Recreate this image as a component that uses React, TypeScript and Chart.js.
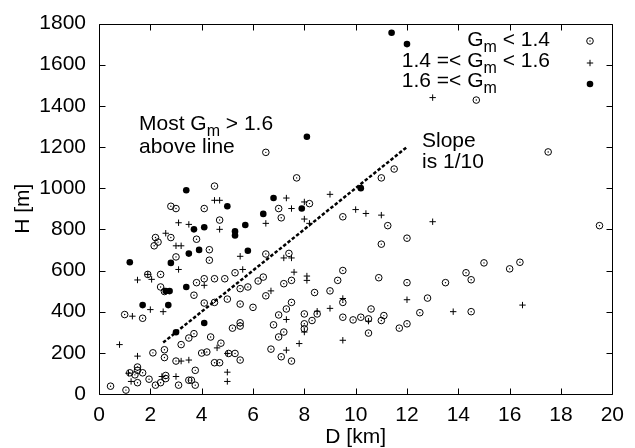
import React, { useEffect, useRef } from "react";
import { Chart, registerables } from "chart.js";

Chart.register(...registerables);

// ---- data ----
const xTicks = [0, 2, 4, 6, 8, 10, 12, 14, 16, 18, 20];
const yTicks = [0, 200, 400, 600, 800, 1000, 1200, 1400, 1600, 1800];

// G_m < 1.4 (open circle with dot)
const gmLow: [number, number][] = [
  [4.5, 1010], [2.8, 912], [3.0, 901], [4.1, 901], [4.7, 845], [2.2, 760], [2.3, 738], [2.15, 720],
  [2.8, 760], [3.8, 752], [3.0, 666], [4.3, 701], [4.3, 650], [1.9, 581], [2.4, 581], [2.4, 520],
  [2.55, 498], [3.8, 541], [4.1, 560], [4.5, 560], [4.9, 560], [5.3, 589], [3.7, 480], [1.0, 386],
  [1.7, 368], [4.1, 442], [4.5, 445], [5.0, 461], [5.2, 320], [3.7, 293], [3.5, 272], [3.2, 240],
  [2.55, 215], [2.1, 200], [2.55, 177], [3.0, 160], [4.35, 277], [4.75, 247], [4.0, 199], [4.2, 204],
  [4.5, 152], [4.7, 152], [5.05, 197], [5.3, 197], [3.75, 115], [1.5, 131], [1.5, 115], [1.2, 103],
  [1.4, 93], [1.7, 103], [1.5, 55], [1.95, 72], [2.2, 43], [2.4, 55], [2.6, 90], [2.6, 75],
  [3.1, 43], [3.5, 67], [3.6, 67], [3.75, 43], [0.45, 38], [1.05, 19],
  [7.7, 1050], [11.0, 1050], [11.5, 1093], [8.2, 925], [7.0, 901], [7.1, 856], [9.5, 861], [11.25, 818],
  [11.0, 728], [6.5, 680], [7.4, 683], [6.4, 568], [6.2, 549], [5.5, 512], [5.8, 520], [7.5, 552],
  [7.2, 536], [9.5, 600], [9.3, 552], [10.9, 565], [8.4, 493], [9.0, 501], [6.5, 477], [5.5, 437],
  [6.0, 421], [7.5, 445], [7.3, 413], [7.0, 384], [8.0, 389], [8.5, 389], [9.5, 445], [9.5, 373],
  [9.9, 360], [10.2, 373], [10.6, 413], [10.5, 365], [11.0, 357], [11.1, 381], [11.7, 320], [10.5, 296],
  [8.3, 357], [8.0, 341], [8.0, 317], [6.8, 336], [7.2, 301], [7.0, 277], [5.5, 346], [5.5, 330],
  [5.5, 165], [6.7, 218], [7.1, 181], [7.5, 160],
  [17.5, 1176], [19.5, 818], [12.0, 757], [15.0, 637], [16.4, 640], [16.0, 608], [14.3, 589], [14.5, 555],
  [12.0, 541], [13.5, 541], [12.8, 466], [14.5, 400], [12.5, 395], [12.0, 341],
  [6.5, 1174], [14.7, 1428],
];

// 1.4 =< G_m < 1.6 (plus)
const gmMid: [number, number][] = [
  [4.5, 941], [4.7, 941], [4.7, 800], [3.1, 832], [3.5, 824], [2.6, 781], [3.0, 720], [3.2, 720],
  [3.1, 605], [1.5, 554], [2.05, 557], [1.9, 581], [4.1, 528], [1.3, 378], [2.0, 410], [2.5, 400],
  [0.8, 240], [1.5, 184], [1.15, 101], [1.25, 61], [2.45, 85], [3.0, 85], [3.2, 160], [3.5, 165],
  [4.6, 224], [5.0, 106], [5.0, 61], [5.0, 197],
  [7.3, 952], [7.5, 901], [8.0, 933], [9.0, 970], [6.5, 829], [8.0, 850], [8.2, 829], [10.0, 896],
  [10.4, 877], [11.0, 869], [5.5, 669], [5.6, 605], [7.2, 661], [7.5, 661], [7.6, 592], [8.1, 573],
  [8.1, 552], [6.7, 501], [9.5, 464], [9.0, 416], [8.5, 402], [7.3, 362], [8.0, 301], [7.8, 245],
  [9.5, 261], [10.5, 354], [7.3, 213],
  [13.0, 837], [12.0, 458], [16.5, 432], [13.8, 400], [13.0, 1440],
];

// 1.6 =< G_m (filled circle)
const gmHigh: [number, number][] = [
  [3.4, 990], [5.0, 912], [3.7, 800], [4.1, 810], [5.3, 790], [5.3, 770], [1.2, 640], [3.5, 682],
  [3.9, 700], [2.8, 637], [2.6, 500], [2.75, 500], [3.4, 520], [1.7, 432], [2.7, 432], [3.0, 300],
  [4.1, 345], [5.7, 821], [5.8, 696], [6.4, 875], [6.8, 952], [7.9, 901], [10.2, 1000], [8.1, 1250],
  [11.4, 1755], [12.0, 1700],
];

// dashed guide line, slope 1/10
const slopeLine: [number, number][] = [[2.5, 250], [12, 1200]];

const legendRows = ["G_m < 1.4", "1.4 =< G_m < 1.6", "1.6 =< G_m"];
const noteAbove = ["Most G_m > 1.6", "above line"];
const noteSlope = ["Slope", "is 1/10"];

const FAMILY = '"Liberation Sans", Arial, Helvetica, sans-serif';
const FS = 21;
const SUB = 16;

type Part = { t: string; sub: boolean };
function parse(s: string): Part[] {
  const out: Part[] = [];
  let buf = "";
  for (let i = 0; i < s.length; i++) {
    if (s[i] === "_" && i + 1 < s.length) {
      if (buf) out.push({ t: buf, sub: false });
      buf = "";
      out.push({ t: s[i + 1], sub: true });
      i++;
    } else buf += s[i];
  }
  if (buf) out.push({ t: buf, sub: false });
  return out;
}
function richWidth(ctx: CanvasRenderingContext2D, s: string) {
  let w = 0;
  for (const p of parse(s)) {
    ctx.font = `${p.sub ? SUB : FS}px ${FAMILY}`;
    w += ctx.measureText(p.t).width;
  }
  return w;
}
function drawRich(ctx: CanvasRenderingContext2D, s: string, x: number, y: number, align: "left" | "right") {
  let cx = align === "right" ? x - richWidth(ctx, s) : x;
  ctx.textAlign = "left";
  ctx.textBaseline = "alphabetic";
  for (const p of parse(s)) {
    ctx.font = `${p.sub ? SUB : FS}px ${FAMILY}`;
    ctx.fillText(p.t, cx, p.sub ? y + 6 : y);
    cx += ctx.measureText(p.t).width;
  }
}

const framePlugin = {
  id: "gnuFrame",
  afterDatasetsDraw(chart: any) {
    const ctx: CanvasRenderingContext2D = chart.ctx;
    const { left, right, top, bottom } = chart.chartArea;
    const xs = chart.scales.x;
    const ys = chart.scales.y;
    const L = Math.round(left) + 0.5;
    const R = Math.round(right) + 0.5;
    const T = Math.round(top) + 0.5;
    const B = Math.round(bottom) + 0.5;
    ctx.save();
    ctx.strokeStyle = "#000";
    ctx.lineWidth = 1;
    ctx.setLineDash([]);
    ctx.beginPath();
    ctx.rect(L, T, R - L, B - T);
    const tl = 6;
    for (const v of xTicks) {
      const px = Math.round(xs.getPixelForValue(v)) + 0.5;
      ctx.moveTo(px, B); ctx.lineTo(px, B - tl);
      ctx.moveTo(px, T); ctx.lineTo(px, T + tl);
    }
    for (const v of yTicks) {
      const py = Math.round(ys.getPixelForValue(v)) + 0.5;
      ctx.moveTo(L, py); ctx.lineTo(L + tl, py);
      ctx.moveTo(R, py); ctx.lineTo(R - tl, py);
    }
    ctx.stroke();

    // legend
    ctx.fillStyle = "#000";
    const rowY = [46, 67, 87];
    const rightX = 550;
    const row2Start = rightX - richWidth(ctx, legendRows[1]);
    drawRich(ctx, legendRows[0], rightX, rowY[0], "right");
    drawRich(ctx, legendRows[1], rightX, rowY[1], "right");
    drawRich(ctx, legendRows[2], row2Start, rowY[2], "left");
    const mx = 590;
    // circle with dot
    ctx.beginPath();
    ctx.arc(mx, 41, 3.3, 0, Math.PI * 2);
    ctx.stroke();
    ctx.beginPath();
    ctx.arc(mx, 41, 0.7, 0, Math.PI * 2);
    ctx.fill();
    // plus
    ctx.beginPath();
    ctx.moveTo(mx - 3.2, 63); ctx.lineTo(mx + 3.2, 63);
    ctx.moveTo(mx, 63 - 3.2); ctx.lineTo(mx, 63 + 3.2);
    ctx.stroke();
    // filled
    ctx.beginPath();
    ctx.arc(mx, 84, 3.3, 0, Math.PI * 2);
    ctx.fill();

    // annotations
    drawRich(ctx, noteAbove[0], 139, 130, "left");
    drawRich(ctx, noteAbove[1], 139, 153, "left");
    drawRich(ctx, noteSlope[0], 422, 147, "left");
    drawRich(ctx, noteSlope[1], 422, 168, "left");
    ctx.restore();
  },
};

const toPts = (a: [number, number][]) => a.map(([x, y]) => ({ x, y }));

export default function App() {
  const ref = useRef<HTMLCanvasElement | null>(null);
  useEffect(() => {
    document.body.style.margin = "0";
    const canvas = ref.current;
    if (!canvas) return;
    const tickFont = { family: FAMILY, size: FS, lineHeight: 1 };
    const chart = new Chart(canvas, {
      type: "scatter",
      data: {
        datasets: [
          {
            label: "G_m < 1.4",
            data: toPts(gmLow),
            pointStyle: "circle",
            pointRadius: 3.3,
            pointBorderWidth: 1,
            pointBorderColor: "#000",
            pointBackgroundColor: "rgba(0,0,0,0)",
          },
          {
            label: "dots",
            data: toPts(gmLow),
            pointStyle: "circle",
            pointRadius: 0.7,
            pointBorderWidth: 0,
            pointBackgroundColor: "#000",
          },
          {
            label: "1.4 =< G_m < 1.6",
            data: toPts(gmMid),
            pointStyle: "cross",
            pointRadius: 3.2,
            pointBorderWidth: 1,
            pointBorderColor: "#000",
          },
          {
            label: "1.6 =< G_m",
            data: toPts(gmHigh),
            pointStyle: "circle",
            pointRadius: 3.3,
            pointBorderWidth: 0,
            pointBackgroundColor: "#000",
          },
          {
            label: "slope",
            data: toPts(slopeLine),
            showLine: true,
            borderColor: "#000",
            borderWidth: 2.5,
            borderDash: [3.5, 2],
            pointRadius: 0,
            fill: false,
          },
        ],
      } as any,
      options: {
        responsive: false,
        animation: false,
        devicePixelRatio: 1,
        events: [],
        layout: { padding: { top: 19, right: 19, left: 0, bottom: 0 } },
        plugins: { legend: { display: false }, tooltip: { enabled: false } },
        scales: {
          x: {
            type: "linear",
            min: 0,
            max: 20,
            afterBuildTicks: (s: any) => { s.ticks = xTicks.map((v) => ({ value: v })); },
            afterFit: (s: any) => { s.height = 54; },
            grid: { display: false, drawTicks: false },
            border: { display: false },
            ticks: { color: "#000", font: tickFont, padding: 11, maxRotation: 0, autoSkip: false, callback: (v: any) => String(v) },
            title: { display: true, text: "D [km]", color: "#000", font: tickFont, padding: { top: 0, bottom: 0 } },
          },
          y: {
            type: "linear",
            min: 0,
            max: 1800,
            afterBuildTicks: (s: any) => { s.ticks = yTicks.map((v) => ({ value: v })); },
            afterFit: (s: any) => { s.width = 99; },
            grid: { display: false, drawTicks: false },
            border: { display: false },
            ticks: { color: "#000", font: tickFont, padding: 13, autoSkip: false, callback: (v: any) => String(v) },
            title: { display: true, text: "H [m]", color: "#000", font: tickFont, padding: { top: 12.5, bottom: 0 } },
          },
        },
      } as any,
      plugins: [framePlugin],
    });
    return () => chart.destroy();
  }, []);
  return (
    <div style={{ width: 635, height: 448, background: "#fff" }}>
      <canvas ref={ref} width={635} height={448} style={{ width: 635, height: 448, display: "block" }} />
    </div>
  );
}
